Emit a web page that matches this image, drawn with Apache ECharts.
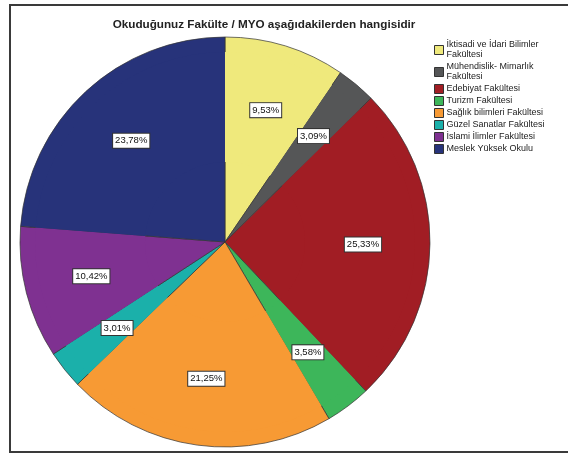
<!DOCTYPE html>
<html>
<head>
<meta charset="utf-8">
<script src="https://cdn.jsdelivr.net/npm/echarts@6/dist/echarts.min.js"></script>
<style>
  html, body { margin: 0; padding: 0; background: #fff; }
  #main { width: 568px; height: 459px; }
</style>
</head>
<body>
<div id="main"></div>
<script>
// fakülteler (legend sırası = dilim sırası)
const categories = [
  'İktisadi ve İdari Bilimler\nFakültesi',
  'Mühendislik- Mimarlık\nFakültesi',
  'Edebiyat Fakültesi',
  'Turizm Fakültesi',
  'Sağlık bilimleri Fakültesi',
  'Güzel Sanatlar Fakültesi',
  'İslami İlimler Fakültesi',
  'Meslek Yüksek Okulu'
];
const percents = [9.53, 3.09, 25.33, 3.58, 21.25, 3.01, 10.42, 23.78];
const colors = ['#efe97c', '#555657', '#a11d24', '#3db65a', '#f79a34', '#1bb0aa', '#7f3191', '#27337a'];

const chart = echarts.init(document.getElementById('main'), null, { renderer: 'canvas' });

const pieData = categories.map((name, i) => ({
  name: name,
  value: percents[i],
  itemStyle: { color: colors[i] }
}));

const option = {
  animation: false,
  title: {
    text: 'Okuduğunuz Fakülte / MYO aşağıdakilerden hangisidir',
    left: 259,
    top: 14,
    textAlign: 'center',
    textStyle: {
      fontFamily: 'Liberation Sans',
      fontSize: 11.7,
      fontWeight: 'bold',
      color: '#222'
    }
  },
  legend: {
    orient: 'vertical',
    left: 429,
    top: 35,
    itemWidth: 9,
    itemHeight: 9,
    itemGap: 2,
    icon: 'rect',
    selectedMode: false,
    itemStyle: { borderColor: '#333', borderWidth: 1 },
    textStyle: {
      fontFamily: 'Liberation Sans',
      fontSize: 9,
      lineHeight: 10,
      color: '#222',
      padding: [0, 0, 0, -2]
    },
    data: categories
  },
  graphic: [{
    type: 'rect',
    shape: { x: 10, y: 5, width: 600, height: 447 },
    style: { fill: 'none', stroke: '#3a3a3a', lineWidth: 2 },
    silent: true,
    z: 0
  }],
  series: [
    {
      type: 'pie',
      center: [225, 242],
      radius: 205,
      startAngle: 90,
      clockwise: true,
      data: pieData,
      itemStyle: { borderColor: '#333', borderWidth: 0.7 },
      label: { show: false },
      labelLine: { show: false },
      emphasis: { disabled: true }
    },
    {
      // sadece etiketler için şeffaf katman
      type: 'pie',
      center: [225, 242],
      radius: [80, 190],
      startAngle: 90,
      clockwise: true,
      silent: true,
      data: pieData,
      itemStyle: { color: 'rgba(0,0,0,0)', borderWidth: 0 },
      label: {
        show: true,
        position: 'inside',
        formatter: p => p.value.toFixed(2).replace('.', ',') + '%',
        fontFamily: 'Liberation Sans',
        fontSize: 9.5,
        lineHeight: 11,
        color: '#111',
        backgroundColor: '#fff',
        borderColor: '#333',
        borderWidth: 1,
        padding: [2, 2, 1, 2]
      },
      labelLine: { show: false },
      emphasis: { disabled: true }
    }
  ]
};

chart.setOption(option);
</script>
</body>
</html>
